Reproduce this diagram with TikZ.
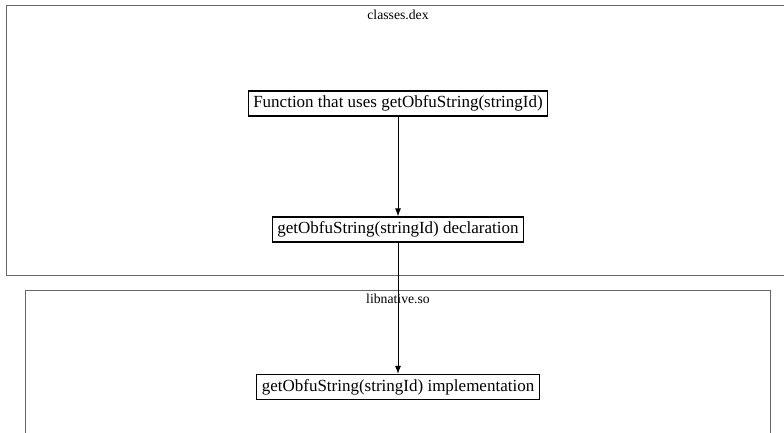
\documentclass[tikz,border=0pt]{standalone}
\usepackage{fontspec}
\setmainfont{Liberation Serif}
\usetikzlibrary{arrows.meta}
\begin{document}
\begin{tikzpicture}[x=1pt,y=-1pt,
  box/.style={draw=black,line width=1.2pt,inner xsep=5pt,inner ysep=2pt,font=\fontsize{17}{19}\selectfont,minimum height=25pt},
  cluster/.style={draw=black!60,line width=0.8pt},
  clabel/.style={font=\fontsize{13.7}{15}\selectfont},
  arr/.style={-{Latex[length=8pt,width=6pt]},line width=0.9pt}]
\useasboundingbox (0,0) rectangle (784,432);
\draw[cluster] (790,5) -- (6,5) -- (6,275) -- (790,275);
\draw[cluster] (25,440) -- (25,290) -- (770,290) -- (770,440);
\node[clabel] (c1) at (398,15) {classes.dex};
\node[clabel] (c2) at (398,299) {libnative.so};
\node[box] (n1) at (398,103.5) {Function that uses getObfuString(stringId)};
\node[box] (n2) at (398,229.5) {getObfuString(stringId) declaration};
\node[box] (n3) at (398,387) {getObfuString(stringId) implementation};
\draw[arr] (n1) -- (n2);
\draw[arr] (n2) -- (n3);
\end{tikzpicture}
\end{document}
